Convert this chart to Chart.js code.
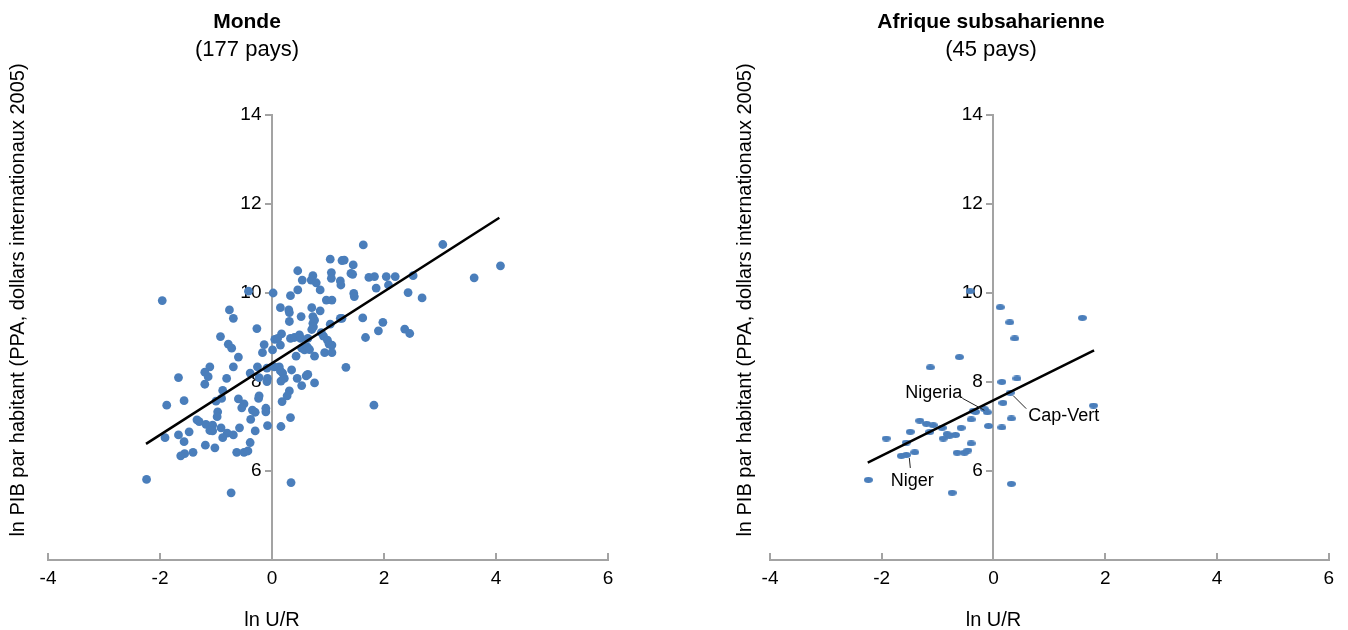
<!DOCTYPE html>
<html>
<head>
<meta charset="utf-8">
<script src="https://cdn.jsdelivr.net/npm/chart.js@4.4.0/dist/chart.umd.min.js"></script>
<style>
  html, body { margin: 0; padding: 0; background: #fff; }
  .panel { position: absolute; top: 0; width: 674px; height: 630px; }
</style>
</head>
<body>
<div class="panel" style="left:0"><canvas id="worldChart"></canvas></div>
<div class="panel" style="left:674px"><canvas id="africaChart"></canvas></div>
<script>
// Monde (177 pays): ln U/R vs ln PIB par habitant
const worldX = [
  -1.96, -0.42, 0.02, -0.76, -0.69, -0.27, -0.92, -0.78, -0.72, -0.14, 0.05, -0.17, 0.01, -0.60, -1.11, -0.69, -0.26,
  -1.20, -1.14, -1.67, -0.81, -1.20, -0.39, -0.09, -0.23, -0.08, -0.09, -0.88, -0.90, -1.00, -1.88, -1.57, -0.60,
  -0.50, -0.54, -0.23, -0.24, -0.11, -0.11, -0.35, -0.30, -0.97, -0.98, -0.38, -1.34, -1.30, -1.18, -1.06, -0.91,
  -1.11, -1.06, -0.58, -0.08, -0.30, -1.48, -0.80, -0.69, -0.88, -1.91, -1.67, -1.57, -1.19, -1.02, -0.39, -1.41,
  -1.56, -1.63, -0.63, -0.50, -0.43, -2.24, -0.73,
  1.63, 1.04, 1.25, 1.29, 1.45, 0.46, 0.73, 1.06, 1.06, 1.41, 1.44, 0.54, 0.70, 0.79, 1.22, 1.23, 1.73, 1.83,
  2.04, 2.20, 0.46, 0.86, 1.86, 2.08, 0.33, 1.46, 1.47, 0.97, 1.07, 0.15, 0.30, 0.31, 0.71, 0.86, 0.52, 0.73,
  0.76, 0.73, 0.74, 0.31, 1.22, 1.25, 1.62, 1.98, 1.04, 0.71, 0.17, 0.10, 0.33, 0.40, 0.49, 0.51, 0.64, 0.88,
  0.92, 0.99, 1.02, 1.07, 1.67, 1.90, 0.15, 0.53, 0.58, 0.63, 0.67, 0.43, 0.76, 0.94, 1.07, 0.13, 0.35, 1.32,
  0.04, 0.15, 0.19, 0.22, 0.16, 0.45, 0.61, 0.64, 0.53, 0.76, 0.31, 0.27, 0.18, 1.82, 0.33, 0.16, 0.34,
  3.05, 4.08, 3.61, 2.52, 2.43, 2.68, 2.37, 2.46
];
const worldY = [
  9.83, 10.04, 10.00, 9.62, 9.43, 9.20, 9.02, 8.85, 8.76, 8.84, 8.96, 8.66, 8.72, 8.56, 8.34, 8.34, 8.34,
  8.22, 8.12, 8.10, 8.08, 7.95, 8.20, 8.31, 8.10, 8.08, 8.01, 7.81, 7.63, 7.57, 7.48, 7.58, 7.62,
  7.51, 7.42, 7.69, 7.63, 7.41, 7.33, 7.37, 7.32, 7.33, 7.22, 7.16, 7.15, 7.11, 7.05, 7.03, 6.97,
  6.91, 6.90, 6.97, 7.02, 6.90, 6.88, 6.85, 6.81, 6.75, 6.75, 6.81, 6.66, 6.58, 6.52, 6.64, 6.42,
  6.39, 6.34, 6.42, 6.42, 6.45, 5.81, 5.51,
  11.08, 10.76, 10.73, 10.74, 10.63, 10.50, 10.39, 10.46, 10.33, 10.44, 10.42, 10.29, 10.29, 10.23, 10.27, 10.18, 10.35, 10.37,
  10.37, 10.37, 10.07, 10.07, 10.11, 10.18, 9.94, 9.99, 9.92, 9.84, 9.84, 9.67, 9.62, 9.56, 9.67, 9.60, 9.47, 9.47,
  9.39, 9.32, 9.24, 9.36, 9.43, 9.43, 9.44, 9.34, 9.30, 9.18, 9.08, 8.98, 8.98, 9.00, 9.06, 8.98, 8.98, 9.11,
  9.03, 8.94, 8.85, 8.83, 9.00, 9.15, 8.83, 8.76, 8.72, 8.79, 8.73, 8.58, 8.58, 8.66, 8.66, 8.34, 8.27, 8.33,
  8.34, 8.25, 8.20, 8.08, 8.02, 8.08, 8.14, 8.17, 7.92, 7.98, 7.80, 7.69, 7.56, 7.48, 7.20, 7.00, 5.74,
  11.09, 10.61, 10.34, 10.39, 10.01, 9.89, 9.19, 9.09
];
const worldFitX = [-2.25, 4.06];
const worldFitY = [6.61, 11.69];

// Afrique subsaharienne (45 pays)
const africaX = [
  -0.42, -0.61, -1.13, -0.36, -0.40, -1.32, -1.20, -1.08, -0.92, -1.14, -1.49, -0.58, -0.83, -0.79, -0.68,
  -0.90, -1.92, -1.56, -0.40, -0.65, -0.52, -0.46, -1.41, -1.65, -1.56, -2.24, -0.74,
  0.12, 0.29, 0.38, 1.59, 0.15, 0.42, 0.30, 0.17, 1.79, -0.32, -0.16, -0.11, 0.32, -0.09, 0.15, 0.32
];
const africaY = [
  10.04, 8.56, 8.33, 7.35, 7.16, 7.13, 7.06, 7.03, 6.97, 6.88, 6.88, 6.97, 6.83, 6.79, 6.81,
  6.73, 6.73, 6.64, 6.62, 6.41, 6.41, 6.46, 6.42, 6.34, 6.36, 5.80, 5.51,
  9.68, 9.34, 8.98, 9.44, 8.00, 8.08, 7.76, 7.53, 7.47, 7.33, 7.39, 7.32, 7.18, 7.01, 6.98, 5.71
];
const africaFitX = [-2.25, 1.80];
const africaFitY = [6.19, 8.71];

// labelled countries
const calloutNames = ['Nigeria', 'Cap-Vert', 'Niger'];
const calloutX = [-0.11, 0.30, -1.56];
const calloutY = [7.32, 7.76, 6.36];

const xTickStep = 2;
const yTickStep = 2;

const DOT = '#4a7ebb';
const AXIS = '#a3a3a3';
const FONT = '"Liberation Sans", Arial, Helvetica, sans-serif';

Chart.defaults.font.family = FONT;
Chart.defaults.color = '#000';

function toPoints(xs, ys) {
  return xs.map((x, i) => ({ x: x, y: ys[i] }));
}

// flattened dot for the Africa panel
function ellipseDot(w, h, color) {
  const c = document.createElement('canvas');
  c.width = w;
  c.height = h;
  const g = c.getContext('2d');
  g.fillStyle = color;
  g.beginPath();
  g.ellipse(w / 2, h / 2, w / 2, h / 2, 0, 0, Math.PI * 2);
  g.fill();
  return c;
}

// titles, axis titles and callouts
const panelText = {
  id: 'panelText',
  afterDraw(chart, args, opts) {
    const { ctx, scales: { x, y } } = chart;
    ctx.save();
    ctx.fillStyle = '#000';
    ctx.textAlign = 'center';
    ctx.textBaseline = 'middle';
    ctx.font = 'bold 21px ' + FONT;
    ctx.fillText(opts.title, opts.titleX, 22);
    ctx.font = '22px ' + FONT;
    ctx.fillText(opts.subtitle, opts.titleX, 50);

    ctx.font = '20px ' + FONT;
    ctx.fillText('ln U/R', x.getPixelForValue(0), 620);

    ctx.save();
    ctx.translate(opts.yTitleX, 300);
    ctx.rotate(-Math.PI / 2);
    ctx.fillText('ln PIB par habitant (PPA, dollars internationaux 2005)', 0, 0);
    ctx.restore();

    (opts.callouts || []).forEach(c => {
      const px = x.getPixelForValue(c.x);
      const py = y.getPixelForValue(c.y);
      ctx.strokeStyle = '#222';
      ctx.lineWidth = 1;
      ctx.beginPath();
      ctx.moveTo(px + c.line[0], py + c.line[1]);
      ctx.lineTo(px + c.line[2], py + c.line[3]);
      ctx.stroke();
      ctx.font = '18px ' + FONT;
      ctx.textAlign = c.align;
      ctx.fillText(c.name, px + c.text[0], py + c.text[1]);
    });
    ctx.restore();
  }
};

function makeChart(id, cfg) {
  return new Chart(document.getElementById(id), {
    data: {
      datasets: [
        {
          type: 'line',
          data: toPoints(cfg.fitX, cfg.fitY),
          borderColor: '#000',
          borderWidth: 2.5,
          pointRadius: 0,
          fill: false,
          order: 0
        },
        {
          type: 'scatter',
          data: toPoints(cfg.xs, cfg.ys),
          backgroundColor: DOT,
          borderWidth: 0,
          pointRadius: cfg.radius,
          pointStyle: cfg.pointStyle,
          order: 1
        }
      ]
    },
    options: {
      responsive: true,
      maintainAspectRatio: false,
      animation: false,
      layout: { padding: cfg.padding },
      plugins: {
        legend: { display: false },
        tooltip: { enabled: false },
        panelText: {
          title: cfg.title,
          subtitle: cfg.subtitle,
          titleX: cfg.titleX,
          yTitleX: cfg.yTitleX,
          callouts: cfg.callouts
        }
      },
      scales: {
        x: {
          type: 'linear',
          min: -4,
          max: 6,
          position: 'bottom',
          ticks: { stepSize: xTickStep, font: { size: 19 }, color: '#000', padding: 14 },
          grid: { display: true, drawOnChartArea: false, drawTicks: true, tickLength: -7, color: AXIS, lineWidth: 2 },
          border: { display: true, color: AXIS, width: 2 },
          afterFit: s => { s.height = 30; }
        },
        y: {
          type: 'linear',
          min: 4,
          max: 14,
          position: { x: 0 },
          ticks: {
            stepSize: yTickStep,
            font: { size: 19 },
            color: '#000',
            // labels sit on the axis when it is placed by value, trailing spaces leave room for the tick
            callback: v => (v === 4 ? '' : v + '  ')
          },
          grid: { display: true, drawOnChartArea: false, drawTicks: true, tickLength: 6, color: AXIS, lineWidth: 2 },
          border: { display: true, color: AXIS, width: 2 }
        }
      }
    },
    plugins: [panelText]
  });
}

makeChart('worldChart', {
  xs: worldX, ys: worldY, fitX: worldFitX, fitY: worldFitY,
  radius: 4.4, pointStyle: 'circle',
  padding: { left: 48, right: 66, top: 115, bottom: 40 },
  title: 'Monde', subtitle: '(177 pays)', titleX: 247, yTitleX: 18,
  callouts: []
});

makeChart('africaChart', {
  xs: africaX, ys: africaY, fitX: africaFitX, fitY: africaFitY,
  radius: 4.5, pointStyle: ellipseDot(9, 6, DOT),
  padding: { left: 96, right: 18, top: 115, bottom: 40 },
  title: 'Afrique subsaharienne', subtitle: '(45 pays)', titleX: 317, yTitleX: 71,
  callouts: calloutNames.map((name, i) => ({
    name: name,
    x: calloutX[i],
    y: calloutY[i],
    // leader line and label offsets in pixels
    line: [[-25, -14, -3, -2], [3, 3, 16, 16], [3, 3, 4, 13]][i],
    text: [[-25, -19], [18, 23], [6, 26]][i],
    align: ['right', 'left', 'center'][i]
  }))
});
</script>
</body>
</html>
